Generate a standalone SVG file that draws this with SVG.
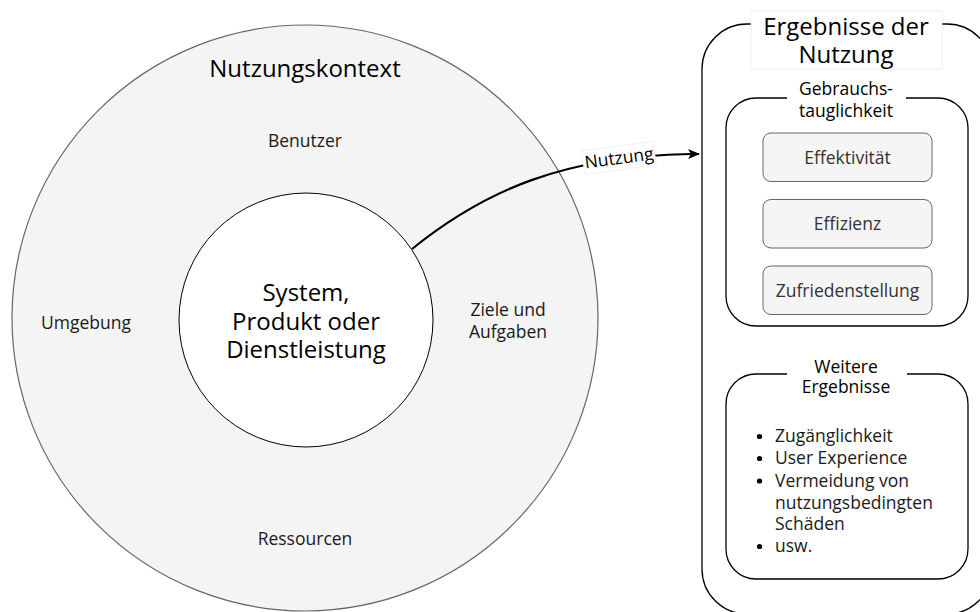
<svg xmlns="http://www.w3.org/2000/svg" width="980" height="612" viewBox="0 0 980 612">
  <style>
    text { font-family: "Open Sans", "Noto Sans", "Liberation Sans", sans-serif; fill: #000; }
    .big { font-size: 24px; text-anchor: middle; }
    .mid { font-size: 17.5px; text-anchor: middle; }
    .ctx { font-size: 17.5px; text-anchor: middle; fill: #1a1a1a; }
    .item { font-size: 17.5px; fill: #1a1a1a; }
    .metric rect { fill: #f5f5f5; stroke: #666; stroke-width: 1; }
    .metric text { font-size: 17.5px; text-anchor: middle; fill: #333; }
    .frame { fill: #fff; stroke: #000; stroke-width: 1.3; }
    .labelbg { fill: #fff; stroke: #ececec; stroke-width: 0.8; }
    .edge { fill: none; stroke: #000; stroke-width: 2.2; }
  </style>
  <defs>
    <marker id="arrow" viewBox="0 0 12 10" refX="11" refY="5" markerWidth="12" markerHeight="10" markerUnits="userSpaceOnUse" orient="auto">
      <path d="M0,0 L12,5 L0,10 L3,5 Z" fill="#000"/>
    </marker>
  </defs>

  <rect width="980" height="612" fill="#fff"/>

  <!-- context of use: outer ring with its four factors -->
  <g id="nutzungskontext">
    <circle cx="305" cy="318" r="293" fill="#f4f4f4" stroke="#666" stroke-width="1.2"/>
    <text class="big" x="305" y="77">Nutzungskontext</text>
    <text class="ctx" x="305" y="147">Benutzer</text>
    <text class="ctx" x="86" y="329">Umgebung</text>
    <text class="ctx" x="508" y="316">Ziele und</text>
    <text class="ctx" x="508" y="338">Aufgaben</text>
    <text class="ctx" x="305" y="545">Ressourcen</text>
  </g>

  <!-- the system at the centre -->
  <g id="system">
    <circle cx="306" cy="320" r="127" fill="#fff" stroke="#000" stroke-width="1"/>
    <text class="big" x="306" y="301">System,</text>
    <text class="big" x="306" y="330">Produkt oder</text>
    <text class="big" x="306" y="358">Dienstleistung</text>
  </g>

  <!-- outcomes of use -->
  <g id="ergebnisse">
    <rect class="frame" x="702" y="24" width="290" height="590" rx="45" ry="45"/>
    <rect class="labelbg" x="751" y="11" width="191" height="58"/>
    <text class="big" x="846" y="34.5">Ergebnisse der</text>
    <text class="big" x="846" y="63">Nutzung</text>
  </g>

  <g id="gebrauchstauglichkeit">
    <rect class="frame" x="726" y="98" width="242" height="228" rx="30" ry="30"/>
    <rect fill="#fff" x="787" y="78" width="119" height="44"/>
    <text class="mid" x="846" y="95">Gebrauchs-</text>
    <text class="mid" x="846" y="117">tauglichkeit</text>
  </g>

  <g id="effektivitaet" class="metric">
    <rect x="763" y="133" width="169" height="48.5" rx="8" ry="8"/>
    <text x="847.5" y="163.5">Effektivität</text>
  </g>
  <g id="effizienz" class="metric">
    <rect x="763" y="199.5" width="169" height="48.5" rx="8" ry="8"/>
    <text x="847.5" y="230">Effizienz</text>
  </g>
  <g id="zufriedenstellung" class="metric">
    <rect x="763" y="266" width="169" height="48.5" rx="8" ry="8"/>
    <text x="847.5" y="296.5">Zufriedenstellung</text>
  </g>

  <g id="weitere-ergebnisse">
    <rect class="frame" x="726" y="374" width="242" height="205" rx="30" ry="30"/>
    <rect fill="#fff" x="787" y="354" width="120" height="44"/>
    <text class="mid" x="846" y="372.5">Weitere</text>
    <text class="mid" x="846" y="393">Ergebnisse</text>
    <g fill="#000">
      <circle cx="759.5" cy="436.5" r="2.6"/>
      <circle cx="759.5" cy="458.5" r="2.6"/>
      <circle cx="759.5" cy="481" r="2.6"/>
      <circle cx="759.5" cy="546.5" r="2.6"/>
    </g>
    <text class="item" x="775" y="442">Zugänglichkeit</text>
    <text class="item" x="775" y="464">User Experience</text>
    <text class="item" x="775" y="486.5">Vermeidung von</text>
    <text class="item" x="775" y="508.5">nutzungsbedingten</text>
    <text class="item" x="775" y="530">Schäden</text>
    <text class="item" x="775" y="552">usw.</text>
  </g>

  <!-- connector: system to outcomes -->
  <g id="connectors">
    <path class="edge" d="M412,249 C485,190 565,156 690,154 L699,154" marker-end="url(#arrow)"/>
    <g transform="translate(619,158) rotate(-7.5)">
      <rect class="labelbg" x="-36" y="-12" width="72" height="24"/>
      <text class="mid" x="0" y="6">Nutzung</text>
    </g>
  </g>
</svg>
